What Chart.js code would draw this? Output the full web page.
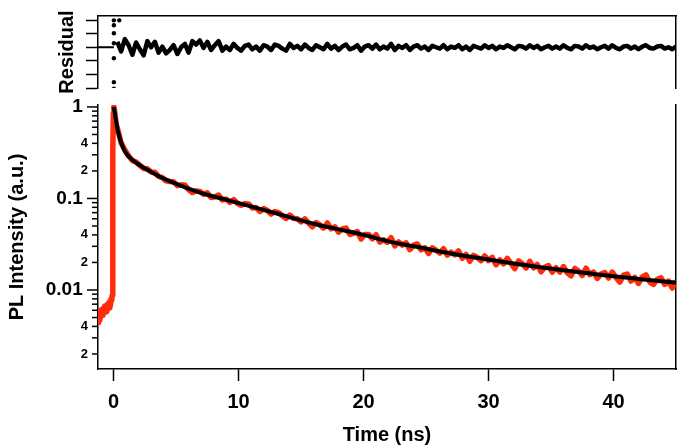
<!DOCTYPE html>
<html>
<head>
<meta charset="utf-8">
<script src="https://cdn.jsdelivr.net/npm/chart.js@4.4.0/dist/chart.umd.min.js"></script>
<style>
  html, body { margin: 0; padding: 0; background: #fff; }
  .panel { position: absolute; left: 0; top: 0; width: 685px; height: 445px; }
</style>
</head>
<body>
<div class="panel"><canvas id="decayChart"></canvas></div>
<div class="panel"><canvas id="residChart"></canvas></div>
<script>
// PL decay (red), fit (black) and residual panel

// x axis
const xMin = -1.25, xMax = 45;
const xTickValues = [0, 10, 20, 30, 40];

// log y axis
const yMin = 0.00137, yMax = 1.05;
const yTickValues = [0.002, 0.003, 0.004, 0.005, 0.006, 0.007, 0.008, 0.009,
  0.01, 0.02, 0.03, 0.04, 0.05, 0.06, 0.07, 0.08, 0.09,
  0.1, 0.2, 0.3, 0.4, 0.5, 0.6, 0.7, 0.8, 0.9, 1];
const yMajorTicks = [0.01, 0.1, 1];
const yLabelValues = [0.002, 0.004, 0.01, 0.02, 0.04, 0.1, 0.2, 0.4, 1];
const yLabelTexts = ['2', '4', '0.01', '2', '4', '0.1', '2', '4', '1'];

// residual axis
const residMin = -3, residMax = 2.3;
const residTickValues = [-3, -2, -1, 0, 1, 2];

// measured PL: baseline + rising edge
const redEdgeTimes = [-1.25, -1.2, -1.15, -1.1, -1.05, -1.0, -0.95, -0.9, -0.85, -0.8,
  -0.75, -0.7, -0.65, -0.6, -0.55, -0.5, -0.45, -0.4, -0.35, -0.3,
  -0.25, -0.2, -0.15, -0.11, -0.08, -0.05, -0.02, 0.02, 0.08, 0.15, 0.22];
const redEdgeValues = [0.0044, 0.0052, 0.0047, 0.0058, 0.0050, 0.0061, 0.0054, 0.0060, 0.0053, 0.0064,
  0.0057, 0.0067, 0.0059, 0.0066, 0.0058, 0.0070, 0.0062, 0.0072, 0.0064, 0.0075,
  0.0068, 0.0080, 0.0077, 0.0088, 0.05, 0.35, 0.85, 1.0, 0.92, 0.74, 0.64];

// measured PL decay, one value per 0.3 ns channel from 0.3 ns
const decayStart = 0.3, decayStep = 0.3;
const redDecay = [
  0.589, 0.405, 0.339, 0.291, 0.259, 0.250, 0.230, 0.213, 0.211, 0.195,
  0.193, 0.174, 0.169, 0.156, 0.153, 0.152, 0.138, 0.141, 0.140, 0.125,
  0.116, 0.121, 0.119, 0.111, 0.115, 0.1025, 0.104, 0.109, 0.0962, 0.0984,
  0.0907, 0.0972, 0.0887, 0.0843, 0.0878, 0.0871, 0.0787, 0.0796, 0.0721, 0.0776,
  0.0740, 0.0675, 0.0719, 0.0699, 0.0646, 0.0604, 0.0659, 0.0606, 0.0602, 0.0556,
  0.0599, 0.0539, 0.0491, 0.0546, 0.0515, 0.0475, 0.0539, 0.0466, 0.0489, 0.0428,
  0.0464, 0.0475, 0.0404, 0.0416, 0.0435, 0.0360, 0.0403, 0.0405, 0.0362, 0.0401,
  0.0334, 0.0354, 0.0332, 0.0373, 0.0303, 0.0335, 0.0309, 0.0328, 0.0276, 0.0309,
  0.0318, 0.0275, 0.0289, 0.0250, 0.0289, 0.0271, 0.0253, 0.0282, 0.0240, 0.0259,
  0.0242, 0.0267, 0.0222, 0.0244, 0.0206, 0.0239, 0.0227, 0.0209, 0.0235, 0.0209,
  0.0227, 0.0189, 0.0213, 0.0193, 0.0222, 0.0195, 0.0171, 0.0208, 0.0194, 0.0174,
  0.0206, 0.0175, 0.0190, 0.0158, 0.0177, 0.0185, 0.0157, 0.0175, 0.0157, 0.0180,
  0.0154, 0.0143, 0.0172, 0.0161, 0.0144, 0.0173, 0.0147, 0.0157, 0.0134, 0.0149,
  0.0155, 0.0135, 0.0157, 0.0137, 0.0122, 0.0145, 0.0149, 0.0125, 0.0137, 0.0118,
  0.0139, 0.0146, 0.0122, 0.0115, 0.0131, 0.0136, 0.0115, 0.0125, 0.0105, 0.0126
];

// fitted decay curve
const fitTimes = [0.0, 0.1, 0.2, 0.3, 0.45, 0.6, 0.8, 1.0, 1.5, 2, 3, 4, 5, 6, 7, 8, 9, 10,
  12, 14, 16, 18, 20, 22, 24, 26, 28, 30, 32, 34, 36, 38, 40, 42, 44, 45];
const fitValues = [1.0, 0.85, 0.7, 0.58, 0.48, 0.41, 0.35, 0.31, 0.265, 0.235, 0.195, 0.165, 0.145, 0.128, 0.115, 0.105, 0.097, 0.089,
  0.075, 0.063, 0.053, 0.046, 0.040, 0.034, 0.030, 0.0265, 0.0237, 0.0215, 0.0195, 0.0178, 0.0164, 0.0152, 0.0141, 0.0132, 0.0124, 0.012];

// residuals: flat before the pulse, scattered points at the pulse, then same channels as the decay
const residPreTimes = [-1.25, 0.02];
const residPreValues = [0, 0];
const residSpikeTimes = [0.02, 0.02, 0.02, 0.02, 0.02, 0.02, 0.02, 0.45];
const residSpikeValues = [1.98, 1.62, 1.03, 0.29, -0.81, -2.57, -3.05, 1.98];
const residDecay = [
  0.4, -0.3, 0.6, 0.15, -0.55, 0.35, -0.15, -0.6, 0.45, 0.0,
  0.4, -0.4, 0.05, -0.45, -0.2, 0.15, -0.5, 0.0, 0.25, -0.4,
  0.45, 0.2, 0.5, -0.05, 0.4, -0.2, 0.15, 0.45, -0.25, 0.05,
  -0.2, 0.25, -0.05, -0.25, 0.1, 0.2, -0.15, 0.05, -0.25, 0.15,
  0.05, -0.2, 0.2, 0.1, -0.1, -0.25, 0.25, -0.05, 0.1, -0.15,
  0.2, -0.05, -0.2, 0.15, 0.0, -0.15, 0.25, -0.1, 0.1, -0.2,
  0.05, 0.2, -0.15, -0.05, 0.15, -0.25, 0.05, 0.15, -0.1, 0.2,
  -0.15, 0.05, -0.1, 0.25, -0.2, 0.1, -0.05, 0.15, -0.2, 0.05,
  0.15, -0.1, 0.05, -0.2, 0.1, 0.0, -0.1, 0.15, -0.15, 0.05,
  -0.05, 0.15, -0.15, 0.05, -0.2, 0.1, 0.0, -0.1, 0.15, -0.05,
  0.1, -0.15, 0.05, -0.05, 0.15, 0.0, -0.15, 0.1, 0.05, -0.1,
  0.15, -0.05, 0.1, -0.15, 0.0, 0.1, -0.1, 0.05, -0.1, 0.15,
  -0.05, -0.15, 0.1, 0.05, -0.1, 0.15, -0.05, 0.05, -0.15, 0.0,
  0.1, -0.1, 0.15, -0.05, -0.15, 0.05, 0.1, -0.1, 0.05, -0.15,
  0.05, 0.15, -0.05, -0.1, 0.05, 0.1, -0.1, 0.0, -0.15, 0.05
];

const FONT = '"Liberation Sans", Arial, sans-serif';
const RED = '#ff2d0a';
const W = 685, H = 445;
const plotLeft = 98, plotRight = 676;

const pairs = (xs, ys) => xs.map((x, i) => ({ x: x, y: ys[i] }));
const channelTimes = vals => vals.map((_, i) => +(decayStart + i * decayStep).toFixed(2));

// draws the log-axis tick marks, long at decades, short elsewhere
const logTickMarks = {
  id: 'logTickMarks',
  afterDraw(chart) {
    const scale = chart.scales.y;
    if (!scale || scale.type !== 'logarithmic') return;
    const ctx = chart.ctx;
    ctx.save();
    ctx.strokeStyle = '#000';
    ctx.lineWidth = 1.5;
    scale.ticks.forEach(t => {
      const py = scale.getPixelForValue(t.value);
      const len = yMajorTicks.includes(t.value) ? 11 : 6;
      ctx.beginPath();
      ctx.moveTo(scale.right - len, py);
      ctx.lineTo(scale.right, py);
      ctx.stroke();
    });
    ctx.restore();
  }
};

function frameAxis(position, size) {
  return {
    position: position,
    type: 'linear',
    min: 0, max: 1,
    ticks: { display: false },
    grid: { display: false, drawTicks: false },
    border: { display: true, color: '#000', width: 1.5 },
    afterFit(axis) {
      if (position === 'top' || position === 'bottom') axis.height = size;
      else axis.width = size;
    }
  };
}

function initDecayChart() {
  const redData = pairs(redEdgeTimes, redEdgeValues).concat(pairs(channelTimes(redDecay), redDecay));
  new Chart(document.getElementById('decayChart'), {
    type: 'scatter',
    data: {
      datasets: [
        { data: pairs(fitTimes, fitValues), showLine: true, borderColor: '#000', borderWidth: 4,
          pointRadius: 0, cubicInterpolationMode: 'monotone', order: 0 },
        { data: redData, showLine: true, borderColor: RED, borderWidth: 5.5, borderJoinStyle: 'round',
          pointRadius: 0, tension: 0, order: 1 }
      ]
    },
    options: {
      responsive: true, maintainAspectRatio: false, animation: false,
      layout: { padding: { top: 105, left: 0, right: 0, bottom: 0 } },
      plugins: { legend: { display: false }, tooltip: { enabled: false } },
      scales: {
        x: {
          type: 'linear', position: 'bottom', min: xMin, max: xMax,
          afterBuildTicks(axis) { axis.ticks = xTickValues.map(v => ({ value: v })); },
          afterFit(axis) { axis.height = H - 369; },
          ticks: { color: '#000', padding: 9, font: { family: FONT, size: 20, weight: 'bold' } },
          grid: { drawOnChartArea: false, tickLength: 12, tickWidth: 1.5, tickColor: '#000' },
          border: { color: '#000', width: 1.5 },
          title: { display: true, text: 'Time (ns)', color: '#000', padding: { top: 0, bottom: 0 },
            font: { family: FONT, size: 20, weight: 'bold', lineHeight: 1 } }
        },
        y: {
          type: 'logarithmic', position: 'left', min: yMin, max: yMax,
          afterBuildTicks(axis) { axis.ticks = yTickValues.map(v => ({ value: v })); },
          afterFit(axis) { axis.width = plotLeft; },
          ticks: {
            color: '#000', padding: 10, autoSkip: false,
            callback: v => {
              const i = yLabelValues.indexOf(v);
              if (i < 0) return '';
              return yLabelTexts[i] + (yMajorTicks.includes(v) ? ' ' : '');
            },
            font: c => yMajorTicks.includes(c.tick && c.tick.value)
              ? { family: FONT, size: 19, weight: 'bold' }
              : { family: FONT, size: 13, weight: 'bold' }
          },
          grid: { display: false, drawTicks: false },
          border: { display: true, color: '#000', width: 1.5 },
          title: { display: true, text: 'PL Intensity (a.u.)', color: '#000', padding: { top: 7, bottom: 0 },
            font: { family: FONT, size: 20, weight: 'bold', lineHeight: 1 } }
        },
        yRight: frameAxis('right', W - plotRight)
      }
    },
    plugins: [logTickMarks]
  });
}

function initResidChart() {
  new Chart(document.getElementById('residChart'), {
    type: 'scatter',
    data: {
      datasets: [
        { data: pairs(residPreTimes, residPreValues), showLine: true, borderColor: '#000', borderWidth: 2,
          pointRadius: 0 },
        { data: pairs(residSpikeTimes, residSpikeValues), showLine: false, pointRadius: 2.2,
          pointBorderWidth: 0, backgroundColor: '#000', borderColor: '#000' },
        { data: pairs(channelTimes(residDecay), residDecay), showLine: true, borderColor: '#000', borderWidth: 4.5,
          borderJoinStyle: 'round', pointRadius: 0, tension: 0 }
      ]
    },
    options: {
      responsive: true, maintainAspectRatio: false, animation: false,
      layout: { padding: { top: 0, left: 0, right: 0, bottom: H - 88 } },
      plugins: { legend: { display: false }, tooltip: { enabled: false } },
      scales: {
        x: { type: 'linear', display: false, min: xMin, max: xMax },
        xTop: Object.assign(frameAxis('top', 16), { min: xMin, max: xMax }),
        y: {
          type: 'linear', position: 'left', min: residMin, max: residMax,
          afterBuildTicks(axis) { axis.ticks = residTickValues.map(v => ({ value: v })); },
          afterFit(axis) { axis.width = plotLeft; },
          ticks: { display: false },
          grid: { drawOnChartArea: false, tickLength: 12, tickWidth: 1.5, tickColor: '#000' },
          border: { color: '#000', width: 1.5 },
          title: { display: true, text: 'Residual', color: '#000', padding: { top: 57, bottom: 0 },
            font: { family: FONT, size: 20, weight: 'bold', lineHeight: 1 } }
        },
        yRight: frameAxis('right', W - plotRight)
      }
    }
  });
}

window.addEventListener('DOMContentLoaded', () => {
  initDecayChart();
  initResidChart();
});
</script>
</body>
</html>
